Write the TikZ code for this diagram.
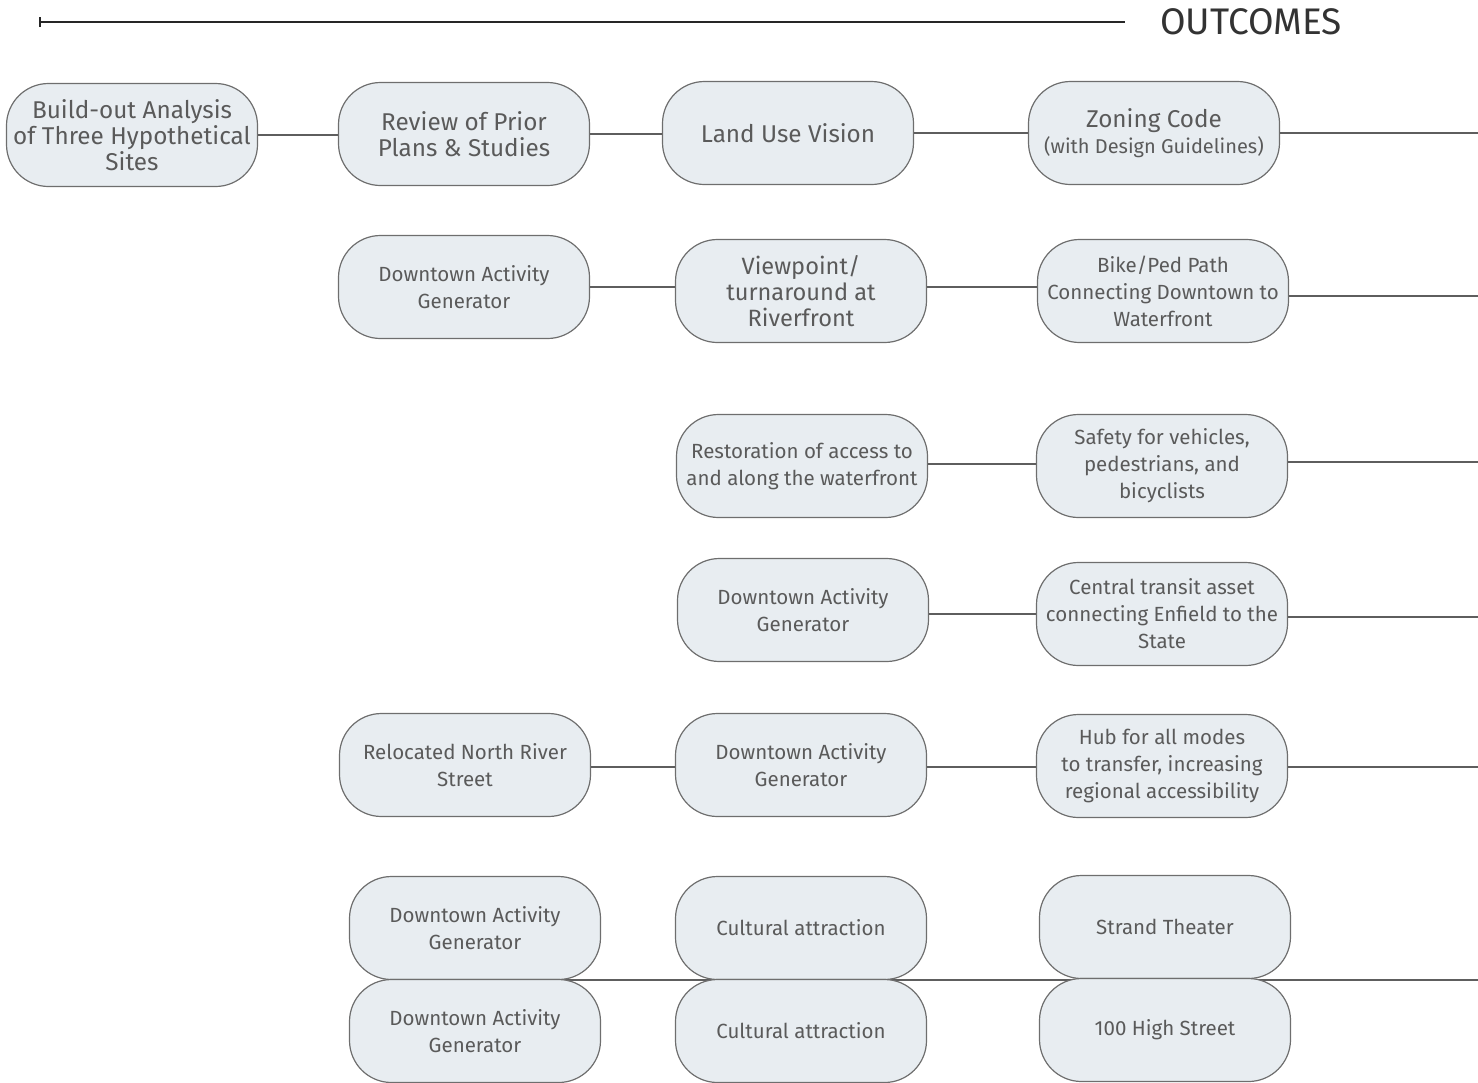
\documentclass[tikz,border=0pt]{standalone}
\usepackage{fontspec}
\setmainfont{Fira Sans}
\definecolor{boxfill}{HTML}{E8EDF1}
\definecolor{boxline}{HTML}{6E6E6E}
\definecolor{txt}{HTML}{5A5A5A}
\definecolor{link}{HTML}{5E5E5E}
\tikzset{
  box/.style={rectangle, rounded corners=42pt, draw=boxline, line width=1.2pt,
    fill=boxfill, minimum width=251pt, minimum height=103pt, inner sep=2pt,
    align=center, text=txt},
  bigtxt/.style={font=\fontsize{24.3}{26}\selectfont},
  midtxt/.style={font=\fontsize{23.6}{26}\selectfont},
  smalltxt/.style={font=\fontsize{20.5}{27}\selectfont},
  link/.style={draw=link, line width=2.2pt},
}
\begin{document}
\begin{tikzpicture}[x=1pt,y=-1pt]
\useasboundingbox (0,0) rectangle (1478,1082);

% header rule
\coordinate (ruleL) at (40,22);
\node[anchor=west, inner sep=0pt, text=black!80,
  font=\fontsize{37}{40}\selectfont] (outc) at (1160,22) {OUTCOMES};
\draw[line width=2.2pt, black!85] (ruleL) -- ([xshift=-35pt]outc.west);
\draw[line width=1.2pt, black!85] ([yshift=-5pt]ruleL) -- ([yshift=5pt]ruleL);

% right margin that the outcome lines run into
\coordinate (edge) at (1478,0);

% shared line behind the last two rows
\coordinate (r6a) at (392,980);
\draw[link] (r6a) -- (r6a -| edge);

% row 1
\node[box,bigtxt] (build) at (132,135) {Build-out Analysis\\of Three Hypothetical\\Sites};
\node[box,bigtxt] (review) at (464,134) {Review of Prior\\Plans \& Studies};
\node[box,bigtxt] (landuse) at (788,133) {Land Use Vision};
\node[box,bigtxt] (zoning) at (1154,133) {Zoning Code\\{\fontsize{20}{24}\selectfont(with Design Guidelines)}};

% row 2
\node[box,smalltxt] (dag1) at (464,287) {Downtown Activity\\Generator};
\node[box,midtxt] (view) at (801,291) {Viewpoint/\\turnaround at\\Riverfront};
\node[box,smalltxt] (bike) at (1163,291) {Bike/Ped Path\\Connecting Downtown to\\Waterfront};

% row 3
\node[box,smalltxt] (resto) at (802,466) {Restoration of access to\\and along the waterfront};
\node[box,smalltxt] (safety) at (1162,466) {Safety for vehicles,\\pedestrians, and\\bicyclists};

% row 4
\node[box,smalltxt] (dag2) at (803,610) {Downtown Activity\\Generator};
\node[box,smalltxt] (transit) at (1162,614) {Central transit asset\\connecting Enfield to the\\State};

% row 5
\node[box,smalltxt] (reloc) at (465,765) {Relocated North River\\Street};
\node[box,smalltxt] (dag3) at (801,765) {Downtown Activity\\Generator};
\node[box,smalltxt] (hub) at (1162,766) {Hub for all modes\\to transfer, increasing\\regional accessibility};

% rows 6 and 7
\node[box,smalltxt] (dag4) at (475,928) {Downtown Activity\\Generator};
\node[box,smalltxt] (cult1) at (801,928) {Cultural attraction};
\node[box,smalltxt] (strand) at (1165,927) {Strand Theater};
\node[box,smalltxt] (dag5) at (475,1031) {Downtown Activity\\Generator};
\node[box,smalltxt] (cult2) at (801,1031) {Cultural attraction};
\node[box,smalltxt] (high) at (1165,1030) {100 High Street};

% connectors (yshift is in page units: positive moves a line up)
\draw[link] (build.east) -- (build.east -| review.west);
\draw[link] (review.east) -- (review.east -| landuse.west);
\draw[link] (landuse.east) -- (landuse.east -| zoning.west);
\draw[link] (zoning.east) -- (zoning.east -| edge);

\draw[link] (dag1.east) -- (dag1.east -| view.west);
\draw[link] ([yshift=4pt]view.east) -- ([yshift=4pt]view.east -| bike.west);
\draw[link] ([yshift=-5pt]bike.east) -- ([yshift=-5pt]bike.east -| edge);

\draw[link] ([yshift=2pt]resto.east) -- ([yshift=2pt]resto.east -| safety.west);
\draw[link] ([yshift=4pt]safety.east) -- ([yshift=4pt]safety.east -| edge);

\draw[link] ([yshift=-4pt]dag2.east) -- ([yshift=-4pt]dag2.east -| transit.west);
\draw[link] ([yshift=-3pt]transit.east) -- ([yshift=-3pt]transit.east -| edge);

\draw[link] ([yshift=-2pt]reloc.east) -- ([yshift=-2pt]reloc.east -| dag3.west);
\draw[link] ([yshift=-2pt]dag3.east) -- ([yshift=-2pt]dag3.east -| hub.west);
\draw[link] ([yshift=-1pt]hub.east) -- ([yshift=-1pt]hub.east -| edge);
\end{tikzpicture}
\end{document}
